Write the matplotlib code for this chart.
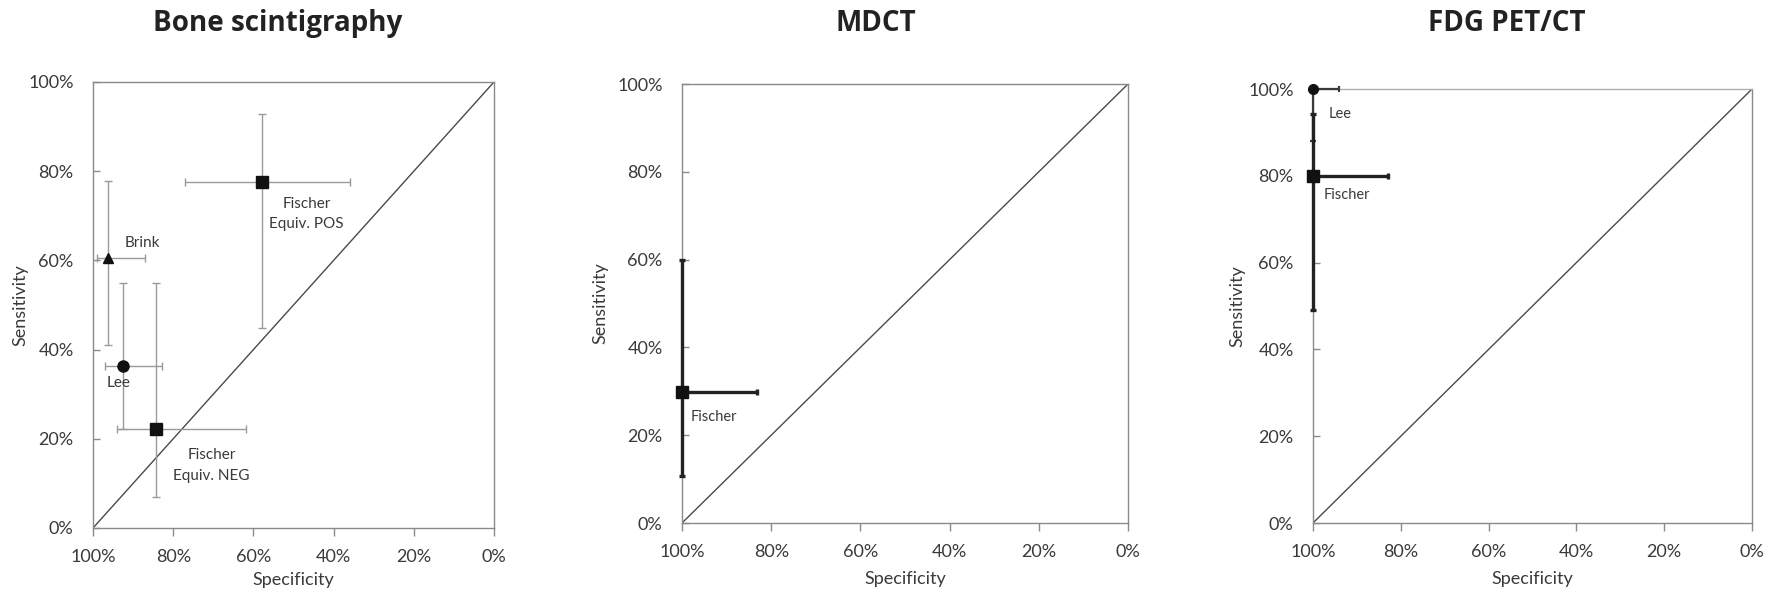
import matplotlib
matplotlib.use("Agg")
import matplotlib.pyplot as plt

plt.rcParams['font.family'] = ['Lato', 'DejaVu Sans']

# ---------------- data ----------------
titles = ["Bone scintigraphy", "MDCT", "FDG PET/CT"]
tick_values = [0, 20, 40, 60, 80, 100]
tick_labels = ["0%", "20%", "40%", "60%", "80%", "100%"]

# Bone scintigraphy
bone_names = ["Brink", "Lee", "Fischer\nEquiv. NEG", "Fischer\nEquiv. POS"]
bone_markers = ["^", "o", "s", "s"]
bone_spec = [96.3, 92.4, 84.2, 57.8]
bone_spec_lo = [87.0, 82.8, 61.8, 35.9]
bone_spec_hi = [99.0, 96.9, 94.0, 77.0]
bone_sens = [60.5, 36.4, 22.1, 77.6]
bone_sens_lo = [41.0, 22.1, 6.9, 44.9]
bone_sens_hi = [77.8, 55.0, 55.0, 92.9]
bone_label_x = [92.2, 96.7, 70.4, 46.7]
bone_label_y = [63.9, 32.4, 14.0, 70.4]
bone_label_ha = ["left", "left", "center", "center"]

# MDCT
mdct_names = ["Fischer"]
mdct_markers = ["s"]
mdct_spec = [100.0]
mdct_spec_lo = [83.1]
mdct_spec_hi = [100.0]
mdct_sens = [29.8]
mdct_sens_lo = [10.8]
mdct_sens_hi = [59.9]
mdct_label_x = [98.1]
mdct_label_y = [24.1]

# FDG PET/CT
pet_names = ["Lee", "Fischer"]
pet_markers = ["o", "s"]
pet_spec = [100.0, 100.0]
pet_spec_lo = [94.0, 82.9]
pet_spec_hi = [100.0, 100.0]
pet_sens = [100.0, 80.0]
pet_sens_lo = [88.0, 49.0]
pet_sens_hi = [100.0, 94.2]
pet_label_x = [96.4, 97.6]
pet_label_y = [94.2, 75.6]

# ---------------- figure ----------------
W, H = 1780, 596
fig = plt.figure(figsize=(W / 100, H / 100), dpi=100)


def px_axes(x0, x1, ytop, ybot):
    return fig.add_axes([x0 / W, 1 - ybot / H, (x1 - x0) / W, (ybot - ytop) / H])


spine_col = "#8a8a8a"
text_col = "#3a3a3a"


def style(ax, ylab_px, xlab_px):
    ax.set_xlim(100, 0)
    ax.set_ylim(0, 100)
    ax.set_xticks(tick_values)
    ax.set_xticklabels(tick_labels)
    ax.set_yticks(tick_values)
    ax.set_yticklabels(tick_labels)
    for s in ax.spines.values():
        s.set_color(spine_col)
        s.set_linewidth(1.0)
        s.set_zorder(1.5)
    ax.tick_params(axis='y', direction='in', length=5, width=1, color=spine_col,
                   pad=14, labelsize=13, labelcolor=text_col)
    ax.tick_params(axis='x', direction='out', length=6, width=1, color=spine_col,
                   pad=9, labelsize=13, labelcolor=text_col)
    ax.set_ylabel("Sensitivity", fontsize=13, color=text_col)
    ax.set_xlabel("Specificity", fontsize=13, color=text_col)
    bb = ax.get_position()
    axw = bb.width * W
    axh = bb.height * H
    ax.yaxis.set_label_coords(-ylab_px / axw, 0.5)
    ax.xaxis.set_label_coords(0.5, -xlab_px / axh)
    ax.plot([100, 0], [0, 100], color="#4a4a4a", lw=1.0, zorder=1)


def draw_points(ax, spec, slo, shi, sens, ylo, yhi, markers, msizes,
                ecol, elw, cap, ecols=None, elws=None):
    for i in range(len(spec)):
        c = ecols[i] if ecols else ecol
        lw = elws[i] if elws else elw
        ax.errorbar([spec[i]], [sens[i]],
                    xerr=[[spec[i] - slo[i]], [shi[i] - spec[i]]],
                    yerr=[[sens[i] - ylo[i]], [yhi[i] - sens[i]]],
                    fmt='none', ecolor=c, elinewidth=lw, capsize=cap,
                    capthick=lw, clip_on=False, zorder=3)
    for i in range(len(spec)):
        ax.plot([spec[i]], [sens[i]], marker=markers[i], color="#111111",
                markersize=msizes[i], linestyle='none', clip_on=False, zorder=4)


# Panel 1
ax1 = px_axes(93, 494, 82, 528)
style(ax1, 65, 44)
draw_points(ax1, bone_spec, bone_spec_lo, bone_spec_hi, bone_sens,
            bone_sens_lo, bone_sens_hi, bone_markers, [7.5, 8, 8, 8],
            "#9a9a9a", 1.0, 3)
for i, name in enumerate(bone_names):
    ax1.text(bone_label_x[i], bone_label_y[i], name, ha=bone_label_ha[i],
             va='center', multialignment='center', fontsize=11,
             color=text_col, linespacing=1.6)

# Panel 2
ax2 = px_axes(682, 1128, 84, 523)
style(ax2, 74, 48)
draw_points(ax2, mdct_spec, mdct_spec_lo, mdct_spec_hi, mdct_sens,
            mdct_sens_lo, mdct_sens_hi, mdct_markers, [8],
            "#222222", 2.4, 2.5)
for i, name in enumerate(mdct_names):
    ax2.text(mdct_label_x[i], mdct_label_y[i], name, ha='left', va='center',
             fontsize=10.5, color=text_col)

# Panel 3
ax3 = px_axes(1313, 1752, 89, 523)
style(ax3, 68, 48)
ax3.spines['top'].set_color("#b0b0b0")
draw_points(ax3, pet_spec, pet_spec_lo, pet_spec_hi, pet_sens,
            pet_sens_lo, pet_sens_hi, pet_markers, [7, 8],
            "#222222", 2.4, 2.5, ecols=["#3a3a3a", "#222222"], elws=[1.6, 2.4])
for i, name in enumerate(pet_names):
    ax3.text(pet_label_x[i], pet_label_y[i], name, ha='left', va='center',
             fontsize=10.5, color=text_col)

# Titles
title_x = [278, 876, 1507]
for t, x in zip(titles, title_x):
    fig.text(x / W, 1 - 31 / H, t, ha='center', va='baseline', fontsize=20,
             fontweight='bold', color="#222222",
             family=['Open Sans', 'DejaVu Sans'])

fig.savefig("out.png", dpi=100, facecolor="white")
